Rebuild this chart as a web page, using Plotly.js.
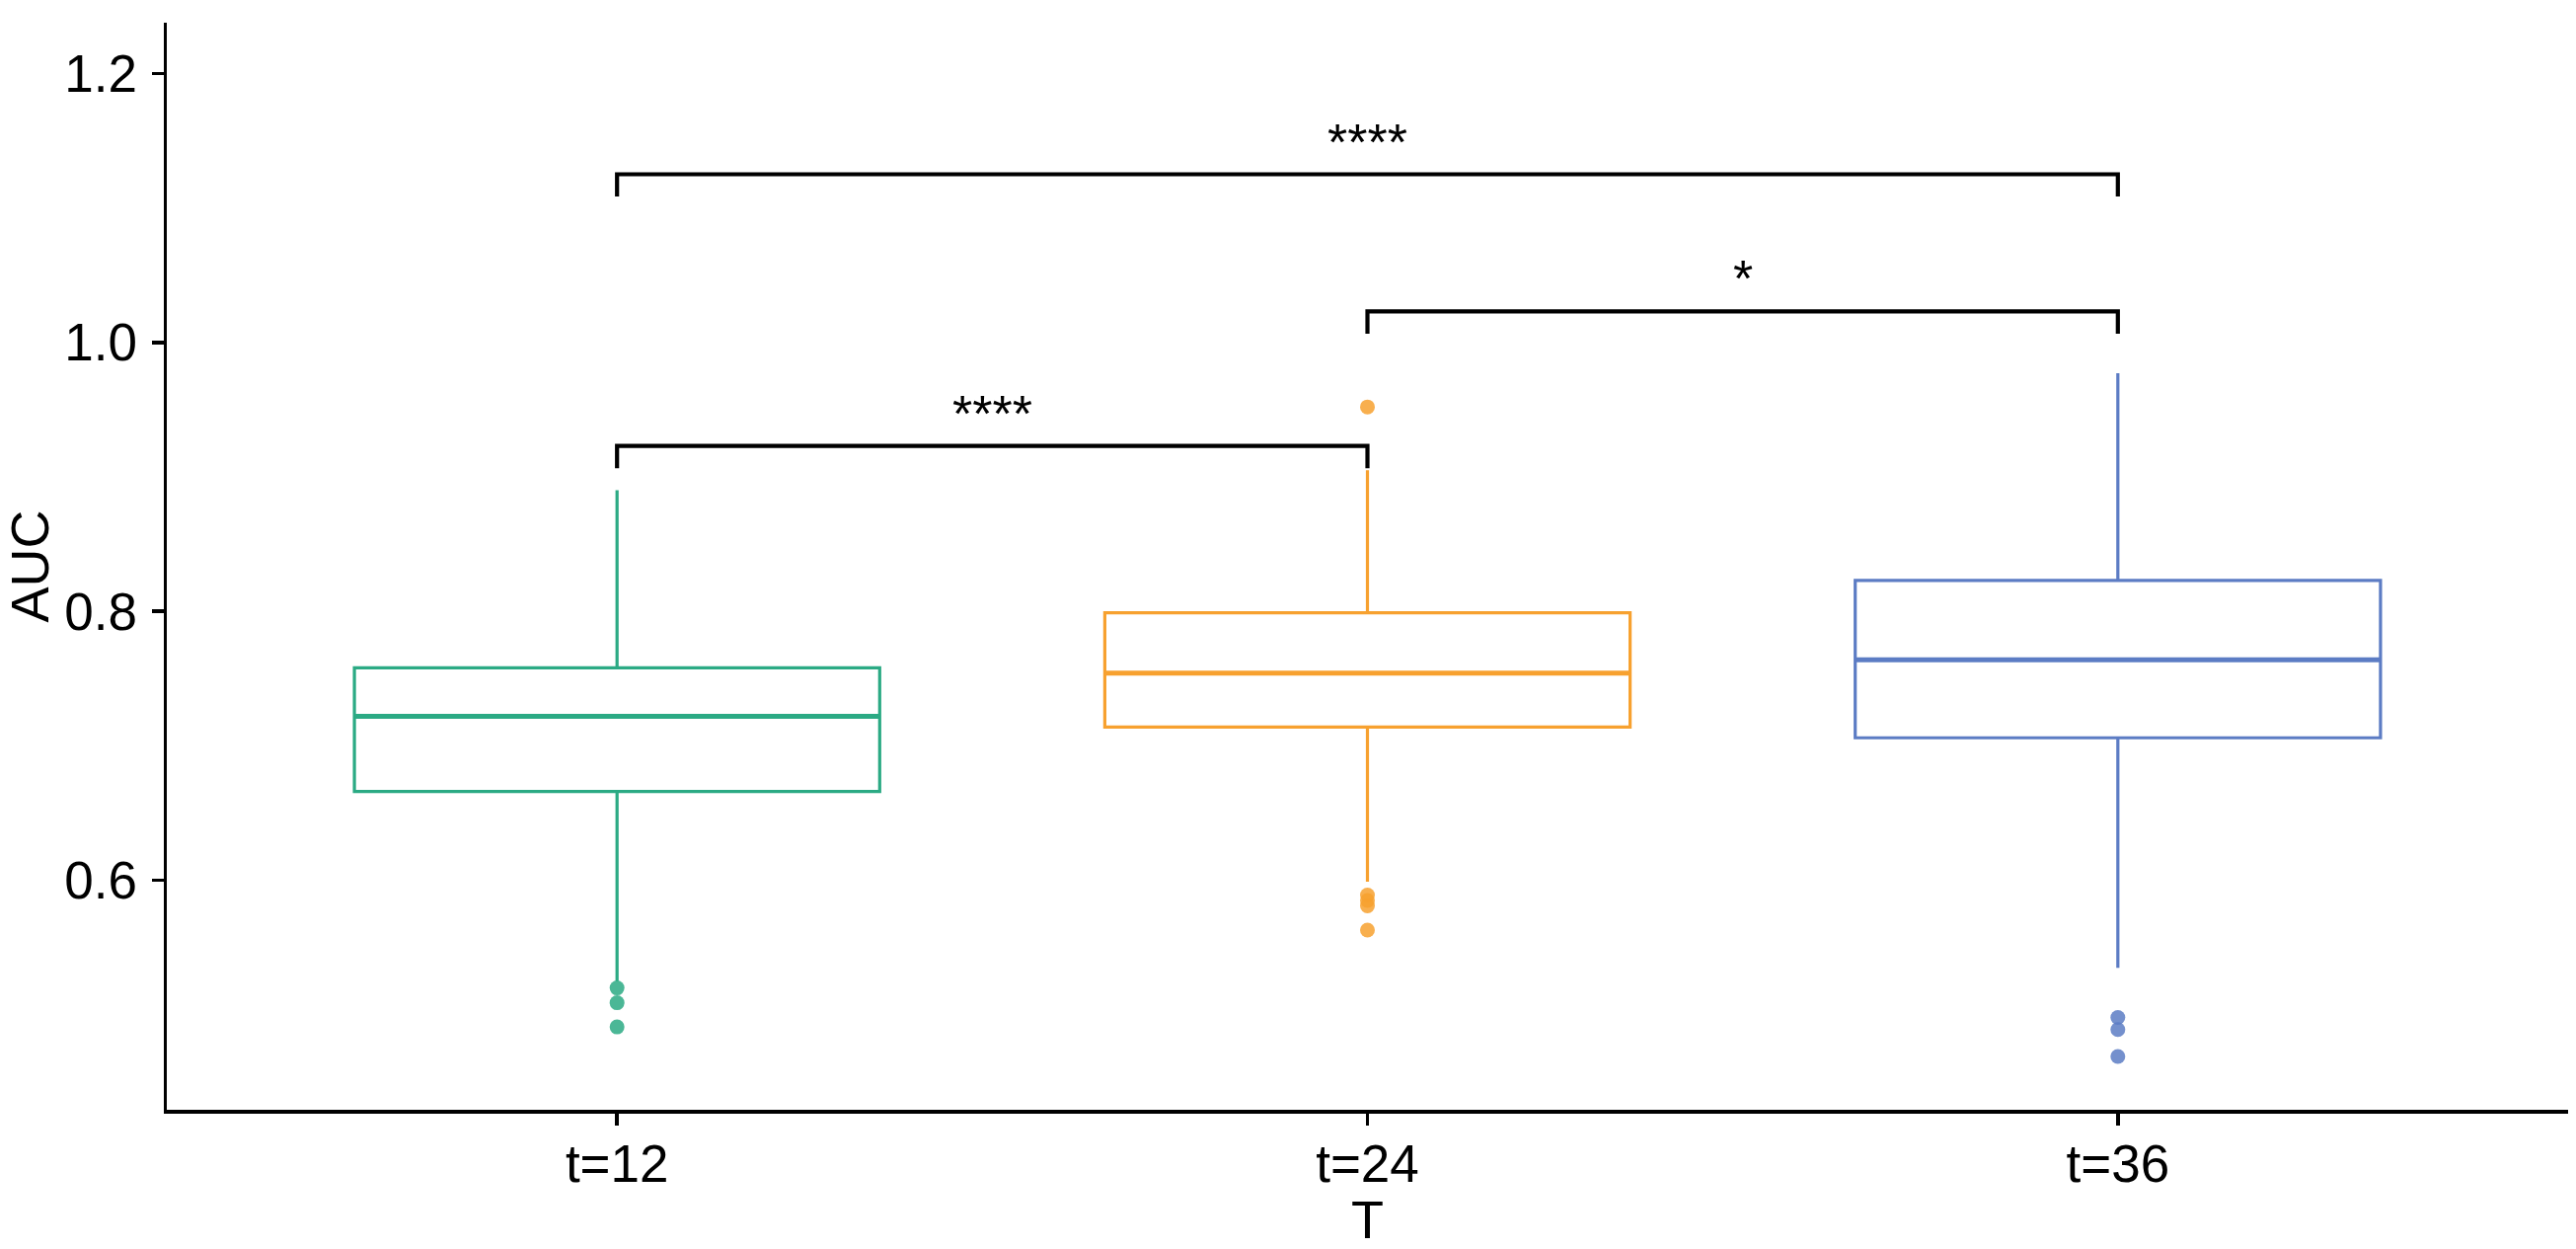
<!DOCTYPE html>
<html>
<head>
<meta charset="utf-8">
<script src="https://cdn.plot.ly/plotly-3.0.1.min.js"></script>
<style>html,body{margin:0;padding:0;background:#fff;}#chart{width:2610px;height:1265px;}</style>
</head>
<body>
<div id="chart"></div>
<script>
// ---- data ----
const categories = ["t=12", "t=24", "t=36"];
const categoryPos = [1, 2, 3];
const colors = ["#2BAA84", "#F7A12F", "#5C7CC4"];
const q1Values = [0.666, 0.714, 0.706];
const medianValues = [0.722, 0.754, 0.764];
const q3Values = [0.758, 0.799, 0.823];
const lowerWhisker = [0.525, 0.599, 0.535];
const upperWhisker = [0.890, 0.905, 0.977];
const outliersT12 = [0.520, 0.509, 0.491];
const outliersT24 = [0.952, 0.589, 0.585, 0.581, 0.563];
const outliersT36 = [0.498, 0.489, 0.469];
const outliers = [outliersT12, outliersT24, outliersT36];
// significance comparisons
const compGroup1 = [1, 2, 1];
const compGroup2 = [2, 3, 3];
const compY = [0.923, 1.023, 1.125];
const compLabels = ["****", "*", "****"];

// ---- build traces ----
const FONT = "Liberation Sans, Arial, sans-serif";
const boxWidth = 0.7;
const tip = 0.0165;
const traces = [];

categoryPos.forEach((pos, i) => {
  traces.push({
    type: "box",
    x: [pos],
    q1: [q1Values[i]],
    median: [medianValues[i]],
    q3: [q3Values[i]],
    lowerfence: [lowerWhisker[i]],
    upperfence: [upperWhisker[i]],
    width: boxWidth,
    whiskerwidth: 0,
    boxpoints: false,
    fillcolor: "rgba(255,255,255,0)",
    line: { color: colors[i], width: 3.2 },
    showlegend: false,
    hoverinfo: "skip"
  });
  // thicker median line
  traces.push({
    type: "scatter",
    mode: "lines",
    x: [pos - boxWidth / 2, pos + boxWidth / 2],
    y: [medianValues[i], medianValues[i]],
    line: { color: colors[i], width: 5 },
    showlegend: false,
    hoverinfo: "skip"
  });
  // outliers
  traces.push({
    type: "scatter",
    mode: "markers",
    x: outliers[i].map(() => pos),
    y: outliers[i],
    marker: { color: colors[i], size: 15, opacity: 0.85 },
    showlegend: false,
    hoverinfo: "skip"
  });
});

const annotations = [];
compY.forEach((yv, k) => {
  traces.push({
    type: "scatter",
    mode: "lines",
    x: [compGroup1[k], compGroup1[k], compGroup2[k], compGroup2[k]],
    y: [yv - tip, yv, yv, yv - tip],
    line: { color: "#000", width: 4.2 },
    showlegend: false,
    hoverinfo: "skip"
  });
  annotations.push({
    x: (compGroup1[k] + compGroup2[k]) / 2,
    y: yv,
    xref: "x", yref: "y",
    text: compLabels[k],
    showarrow: false,
    yanchor: "bottom",
    yshift: 2,
    font: { family: FONT, size: 52, color: "#000" }
  });
});

const layout = {
  width: 2610,
  height: 1265,
  paper_bgcolor: "#fff",
  plot_bgcolor: "#fff",
  margin: { l: 169, r: 8, t: 23, b: 141 },
  font: { family: FONT, color: "#000" },
  showlegend: false,
  xaxis: {
    range: [0.4, 3.6],
    tickvals: categoryPos,
    ticktext: categories,
    showgrid: false,
    zeroline: false,
    showline: true,
    linecolor: "#000",
    linewidth: 3.5,
    ticks: "outside",
    ticklen: 12,
    tickwidth: 3.5,
    tickcolor: "#000",
    ticklabelstandoff: -6,
    tickfont: { family: FONT, size: 53, color: "#000" },
    title: { text: "T", font: { family: FONT, size: 54, color: "#000" }, standoff: 44 }
  },
  yaxis: {
    range: [0.4294, 1.2377],
    tickvals: [0.6, 0.8, 1.0, 1.2],
    ticktext: ["0.6", "0.8", "1.0", "1.2"],
    showgrid: false,
    zeroline: false,
    showline: true,
    linecolor: "#000",
    linewidth: 3.5,
    ticks: "outside",
    ticklen: 12,
    tickwidth: 3.5,
    tickcolor: "#000",
    ticklabelstandoff: 4,
    tickfont: { family: FONT, size: 53, color: "#000" },
    title: { text: "AUC", font: { family: FONT, size: 54, color: "#000" }, standoff: 26 }
  },
  annotations: annotations
};

Plotly.newPlot("chart", traces, layout, { displayModeBar: false, staticPlot: true });
</script>
</body>
</html>
